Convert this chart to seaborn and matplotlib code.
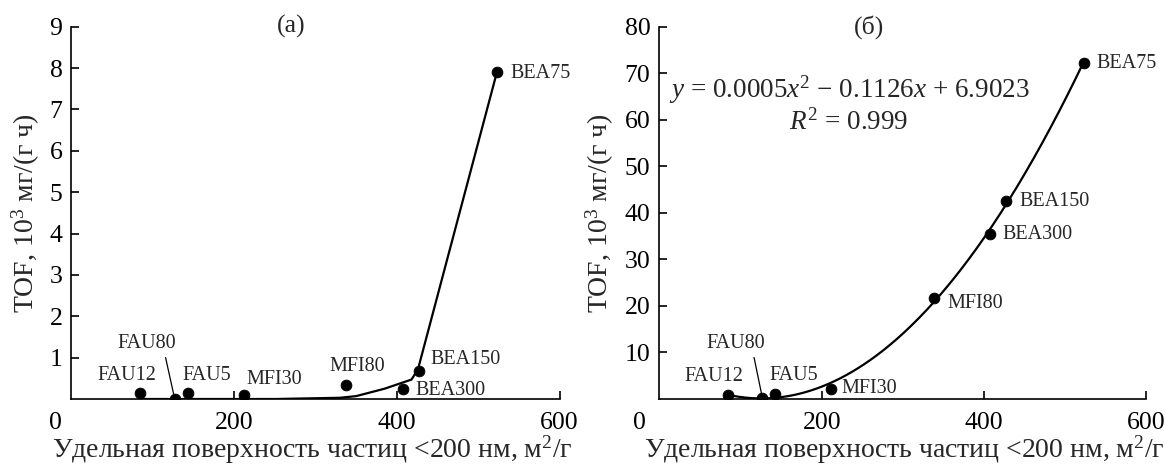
import numpy as np
import pandas as pd
import matplotlib
matplotlib.use("Agg")
import matplotlib.pyplot as plt
from matplotlib.transforms import ScaledTranslation
import seaborn as sns

# Catalyst samples and specific surface of particles < 200 nm (m2/g)
samples = ["FAU12", "FAU80", "FAU5", "MFI30", "MFI80", "BEA300", "BEA150", "BEA75"]
surface = [84, 127, 143, 212, 338, 407, 427, 523]

# TOF, 10^3 mg/(g h): panel (a) and panel (б)
tof_a = [0.14, 0.0, 0.14, 0.10, 0.34, 0.24, 0.68, 7.9]
tof_b = [0.86, 0.14, 1.07, 2.15, 21.8, 35.4, 42.6, 72.3]

# Trend line drawn through panel (a)
trend_a_x = [84, 127, 250, 330, 350, 385, 418, 426, 523]
trend_a_y = [0.0, 0.0, 0.0, 0.03, 0.07, 0.25, 0.47, 0.72, 7.9]

fit_text = r"$y$ = 0.0005$x^2$ − 0.1126$x$ + 6.9023"
r2_text = r"$R^2$ = 0.999"

sns.set_theme(style="ticks")
plt.rcParams["font.family"] = ["Liberation Serif", "DejaVu Serif"]
plt.rcParams["mathtext.fontset"] = "custom"
plt.rcParams["mathtext.rm"] = "Liberation Serif"
plt.rcParams["mathtext.it"] = "Liberation Serif:italic"
plt.rcParams["mathtext.bf"] = "Liberation Serif:bold"

TICK = 18.5
LABEL = 20
EQ = 19.5
SMALL = 14.5

df = pd.DataFrame({"sample": samples, "surface": surface, "tof_a": tof_a, "tof_b": tof_b})

fig = plt.figure(figsize=(11.65, 4.65), dpi=100)
ax1 = fig.add_axes([0.0613, 0.1419, 0.419, 0.8007])
ax2 = fig.add_axes([0.566, 0.1419, 0.418, 0.8007])

# Label placement (offset in points, alignment) for each sample
offsets_a = {
    "FAU12": (-9.4, 13, "center"), "FAU80": (-20, 40, "center"), "FAU5": (13.4, 13, "center"),
    "MFI30": (2, 11, "left"), "MFI80": (8, 13, "center"), "BEA300": (9.4, -1, "left"),
    "BEA150": (8.6, 8, "left"), "BEA75": (10, -1, "left"),
}
offsets_b = {
    "FAU12": (-9.9, 13.2, "center"), "FAU80": (-19.4, 39.6, "center"), "FAU5": (13, 13.7, "center"),
    "MFI30": (7.2, 0.5, "left"), "MFI80": (10, -4.3, "left"), "BEA300": (9.4, -0.5, "left"),
    "BEA150": (9.4, -0.7, "left"), "BEA75": (9.4, -0.5, "left"),
}

# Panel (a)
sns.lineplot(x=trend_a_x, y=trend_a_y, ax=ax1, color="black", lw=1.6, sort=False)
sns.scatterplot(data=df, x="surface", y="tof_a", ax=ax1, color="black", s=60,
                edgecolor="black", zorder=5)

# Panel (б): quadratic fit through the measured points
coef = np.polyfit(df["surface"], df["tof_b"], 2)
xf = np.linspace(min(surface), max(surface), 300)
sns.lineplot(x=xf, y=np.polyval(coef, xf), ax=ax2, color="black", lw=1.6, sort=False)
sns.scatterplot(data=df, x="surface", y="tof_b", ax=ax2, color="black", s=60,
                edgecolor="black", zorder=5)

for ax, col, offs in ((ax1, "tof_a", offsets_a), (ax2, "tof_b", offsets_b)):
    for _, row in df.iterrows():
        dx, dy, ha = offs[row["sample"]]
        kw = {}
        if row["sample"] == "FAU80":
            kw["arrowprops"] = dict(arrowstyle="-", lw=0.9, color="black",
                                    relpos=(0.8, 0.0), shrinkA=1, shrinkB=3)
        ax.annotate(row["sample"], (row["surface"], row[col]), xytext=(dx, dy),
                    textcoords="offset points", ha=ha, va="center", fontsize=SMALL, **kw)

ax1.set_ylim(0, 9)
ax1.set_yticks(range(1, 10))
ax2.set_ylim(0, 80)
ax2.set_yticks(range(10, 90, 10))

ax2.text(233.6, 66.4, fit_text, ha="center", va="center", fontsize=EQ)
ax2.text(233.6, 59.4, r2_text, ha="center", va="center", fontsize=EQ)

panels = (
    (ax1, "(a)", 0.45, -0.156, 0.493, -0.094),
    (ax2, "(б)", 0.43, -0.195, 0.502, -0.122),
)
for ax, title, tx, zero_shift, xl_x, yl_x in panels:
    ax.set_xlim(0, 600)
    ax.set_xticks([0, 200, 400, 600])
    ax.set_xticklabels(["0", "200", "400", "600"])
    ax.tick_params(axis="both", direction="in", length=6, width=1.2, labelsize=TICK,
                   colors="black")
    ax.tick_params(axis="x", pad=9)
    ax.tick_params(axis="y", pad=6.5)
    ax.xaxis.get_major_ticks()[0].tick1line.set_visible(False)
    lbl0 = ax.get_xticklabels()[0]
    lbl0.set_transform(lbl0.get_transform() + ScaledTranslation(zero_shift, 0, fig.dpi_scale_trans))
    for s in ("top", "right"):
        ax.spines[s].set_visible(False)
    for s in ("left", "bottom"):
        ax.spines[s].set_linewidth(1.2)
        ax.spines[s].set_color("black")
    ax.set_xlabel(r"Удельная поверхность частиц <200 нм, м$^2$/г", fontsize=LABEL)
    ax.xaxis.label.set_va("baseline")
    ax.xaxis.set_label_coords(xl_x, -0.157)
    ax.set_ylabel(r"TOF, 10$^3$ мг/(г ч)", fontsize=LABEL)
    ax.yaxis.label.set_va("center")
    ax.yaxis.set_label_coords(yl_x, 0.5)
    ax.text(tx, 1.0, title, transform=ax.transAxes, ha="center", va="center", fontsize=TICK)

fig.savefig("out.png", dpi=100)
